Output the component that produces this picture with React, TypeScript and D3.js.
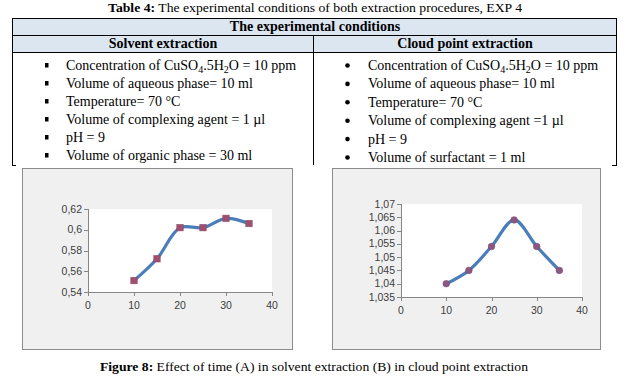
import React from 'react';
import * as d3 from 'd3';

const W = 629;
const H = 384;

// reading time (min) and absorbance for both procedures
const timeMin = [10, 15, 20, 25, 30, 35];
const absSolvent = [0.551, 0.572, 0.602, 0.602, 0.611, 0.606];
const absCloud = [1.04, 1.045, 1.054, 1.064, 1.054, 1.045];

const xTicks = [0, 10, 20, 30, 40];
const yTicksSolvent = [0.54, 0.56, 0.58, 0.6, 0.62];
const yTicksCloud = [1.035, 1.04, 1.045, 1.05, 1.055, 1.06, 1.065, 1.07];

// "_" marks the next character as a subscript
const solventConditions = [
  'Concentration of CuSO_4.5H_2O = 10 ppm',
  'Volume of aqueous phase= 10 ml',
  'Temperature= 70 °C',
  'Volume of complexing agent = 1 µl',
  'pH = 9',
  'Volume of organic phase = 30 ml',
];
const cloudConditions = [
  'Concentration of CuSO_4.5H_2O = 10 ppm',
  'Volume of aqueous phase= 10 ml',
  'Temperature= 70 °C',
  'Volume of complexing agent =1 µl',
  'pH = 9',
  'Volume of surfactant = 1 ml',
];

const serif = '"Liberation Serif", "DejaVu Serif", serif';
const sans = '"Liberation Sans", Arial, sans-serif';
const comma = (v: number) => String(+v.toFixed(3)).replace('.', ',');

const withSubs = (s: string) => {
  const parts = s.split(/_(\d)/);
  return parts.map((p, i) =>
    i % 2 === 1 ? (
      <tspan key={i} fontSize={10} dy={3}>
        {p}
      </tspan>
    ) : (
      <tspan key={i} dy={i > 0 ? -3 : 0}>
        {p}
      </tspan>
    )
  );
};

type ChartProps = {
  box: [number, number, number, number];
  plot: [number, number, number, number];
  yTicks: number[];
  values: number[];
  marker: 'square' | 'circle';
};

const MiniChart = ({ box, plot, yTicks, values, marker }: ChartProps) => {
  const [bx0, by0, bx1, by1] = box;
  const [left, top, right, bottom] = plot;
  const x = d3.scaleLinear().domain([0, 40]).range([left, right]);
  const y = d3
    .scaleLinear()
    .domain([yTicks[0], yTicks[yTicks.length - 1]])
    .range([bottom, top]);
  const pts = timeMin.map((t, i) => [x(t), y(values[i])] as [number, number]);
  const line = d3.line().curve(d3.curveCatmullRom.alpha(0.5))(pts) || '';

  return (
    <g>
      <rect x={bx0 + 0.5} y={by0 + 0.5} width={bx1 - bx0} height={by1 - by0} fill="#f0f0f0" stroke="#8c8c8c" />
      <rect x={left} y={top} width={right - left} height={bottom - top} fill="#ffffff" />
      <line x1={left + 0.5} x2={left + 0.5} y1={top} y2={bottom} stroke="#868686" />
      {yTicks.map(t => (
        <g key={t}>
          <line x1={left - 4} x2={left} y1={Math.round(y(t)) + 0.5} y2={Math.round(y(t)) + 0.5} stroke="#868686" />
          <text x={left - 6} y={y(t) + 3.5} textAnchor="end" fontSize={10.5} fontFamily={sans} fill="#404040">
            {comma(t)}
          </text>
        </g>
      ))}
      <line x1={left} x2={right} y1={bottom + 0.5} y2={bottom + 0.5} stroke="#868686" />
      {xTicks.map(t => (
        <g key={t}>
          <line x1={Math.round(x(t)) + 0.5} x2={Math.round(x(t)) + 0.5} y1={bottom} y2={bottom + 4} stroke="#868686" />
          <text x={x(t)} y={bottom + 17} textAnchor="middle" fontSize={10.5} fontFamily={sans} fill="#404040">
            {t}
          </text>
        </g>
      ))}
      <path d={line} fill="none" stroke="#4a7ebb" strokeWidth={3.2} strokeLinecap="round" />
      {pts.map(([px, py], i) =>
        marker === 'square' ? (
          <rect key={i} x={px - 3.2} y={py - 3.2} width={6.4} height={6.4} fill="#a0506e" stroke="#8a4a66" strokeWidth={0.6} />
        ) : (
          <circle key={i} cx={px} cy={py} r={3.3} fill="#8a5880" stroke="#7a4a72" strokeWidth={0.6} />
        )
      )}
    </g>
  );
};

export default function App() {
  const tL = 12;
  const tR = 616;
  const mid = 313;
  const rowTop = [18, 35, 52];
  const listEnd = 165;

  return (
    <svg width={W} height={H} style={{ position: 'fixed', left: 0, top: 0, background: '#fff' }}>
      <text x={315} y={12} textAnchor="middle" fontSize={12.5} fontFamily={serif} fill="#000" textLength={414} lengthAdjust="spacingAndGlyphs">
        <tspan fontWeight="bold">Table 4:</tspan> The experimental conditions of both extraction procedures, EXP 4
      </text>

      <rect x={tL} y={rowTop[0]} width={tR - tL} height={rowTop[2] - rowTop[0]} fill="#dce6f1" />
      {rowTop.map(r => (
        <line key={r} x1={tL} x2={tR} y1={r + 0.5} y2={r + 0.5} stroke="#000" />
      ))}
      <line x1={tL + 0.5} x2={tL + 0.5} y1={rowTop[0]} y2={listEnd} stroke="#000" />
      <line x1={tR + 0.5} x2={tR + 0.5} y1={rowTop[0]} y2={listEnd} stroke="#000" />
      <line x1={mid + 0.5} x2={mid + 0.5} y1={rowTop[1]} y2={listEnd} stroke="#000" />
      <line x1={tL} x2={tL + 4} y1={listEnd + 0.5} y2={listEnd + 0.5} stroke="#000" />
      <line x1={tR - 4} x2={tR + 1} y1={listEnd + 0.5} y2={listEnd + 0.5} stroke="#000" />

      <text x={315} y={31} textAnchor="middle" fontSize={14} fontWeight="bold" fontFamily={serif}>
        The experimental conditions
      </text>
      <text x={163} y={48} textAnchor="middle" fontSize={14} fontWeight="bold" fontFamily={serif}>
        Solvent extraction
      </text>
      <text x={465} y={48} textAnchor="middle" fontSize={14} fontWeight="bold" fontFamily={serif}>
        Cloud point extraction
      </text>

      {solventConditions.map((c, i) => (
        <g key={'s' + i}>
          <rect x={45} y={63 + i * 18} width={3.5} height={4.5} fill="#000" />
          <text x={66} y={70 + i * 18} fontSize={14} fontFamily={serif}>
            {withSubs(c)}
          </text>
        </g>
      ))}
      {cloudConditions.map((c, i) => (
        <g key={'c' + i}>
          <circle cx={347.5} cy={65.5 + i * 18.4} r={2.3} fill="#000" />
          <text x={368} y={70 + i * 18.4} fontSize={14} fontFamily={serif}>
            {withSubs(c)}
          </text>
        </g>
      ))}

      <MiniChart
        box={[22, 168, 292, 349]}
        plot={[88, 209, 272, 292]}
        yTicks={yTicksSolvent}
        values={absSolvent}
        marker="square"
      />
      <MiniChart
        box={[332, 168, 600, 349]}
        plot={[401, 204, 582, 297]}
        yTicks={yTicksCloud}
        values={absCloud}
        marker="circle"
      />

      <text x={314} y={371} textAnchor="middle" fontSize={13.5} fontFamily={serif} textLength={428} lengthAdjust="spacingAndGlyphs">
        <tspan fontWeight="bold">Figure 8:</tspan> Effect of time (A) in solvent extraction (B) in cloud point extraction
      </text>
    </svg>
  );
}
